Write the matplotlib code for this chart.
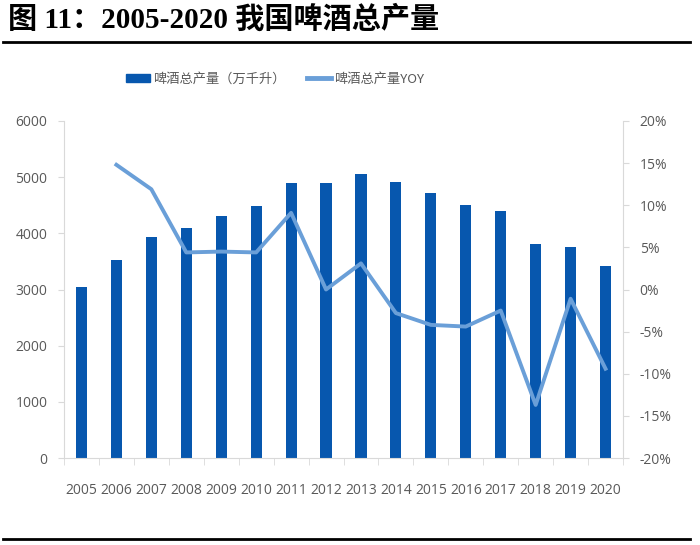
import matplotlib
matplotlib.use("Agg")
import matplotlib.pyplot as plt
from matplotlib.lines import Line2D
from matplotlib.patches import Patch
import numpy as np

years = ["2005", "2006", "2007", "2008", "2009", "2010", "2011", "2012",
         "2013", "2014", "2015", "2016", "2017", "2018", "2019", "2020"]
production = [3050, 3520, 3930, 4090, 4300, 4480, 4890, 4890,
              5060, 4920, 4710, 4500, 4400, 3810, 3760, 3410]
yoy_years = years[1:]
yoy = [14.8, 11.9, 4.4, 4.5, 4.4, 9.1, 0.0, 3.1,
       -2.8, -4.2, -4.4, -2.5, -13.7, -1.1, -9.4]
left_ticks = [0, 1000, 2000, 3000, 4000, 5000, 6000]
right_ticks = [-20, -15, -10, -5, 0, 5, 10, 15, 20]

bar_color = "#0757AE"
line_color = "#6A9FD8"
grey = "#595959"
spine_c = "#D9D9D9"
tick_font = ["Open Sans", "DejaVu Sans"]

fig = plt.figure(figsize=(7, 5.45), dpi=100)
fig.patch.set_facecolor("white")
ax = fig.add_axes([64/700, 1-458/545, (623-64)/700, (458-121)/545])
x = np.arange(len(years))
ax.bar(x, production, width=0.32, color=bar_color, zorder=2)
ax.set_xlim(-0.5, len(years)-0.5)
ax.set_ylim(0, 6000)
ax.set_yticks(left_ticks)
ax.set_yticklabels([str(t) for t in left_ticks])
ax.set_xticks(x)
ax.set_xticklabels(years)
ax.set_xticks(np.arange(-0.5, len(years), 1.0), minor=True)
ax.tick_params(axis="x", which="major", length=0, pad=18, labelsize=10, labelcolor=grey)
ax.tick_params(axis="x", which="minor", length=5, color=spine_c, direction="out")
ax.tick_params(axis="y", length=4, color=spine_c, labelsize=10, labelcolor=grey, pad=8)
for s in ["top", "right"]:
    ax.spines[s].set_visible(False)
for s in ["left", "bottom"]:
    ax.spines[s].set_color(spine_c)

ax2 = ax.twinx()
xi = np.array([years.index(y) for y in yoy_years])
ax2.plot(xi, yoy, color=line_color, lw=2.8, zorder=3)
ax2.set_ylim(-20, 20)
ax2.set_yticks(right_ticks)
ax2.set_yticklabels([f"{t}%" for t in right_ticks])
ax2.tick_params(axis="y", length=4, color=spine_c, labelsize=10, labelcolor=grey, pad=8)
for s in ["top", "left", "bottom"]:
    ax2.spines[s].set_visible(False)
ax2.spines["right"].set_color(spine_c)

for a in (ax, ax2):
    for lab in a.get_xticklabels() + a.get_yticklabels():
        lab.set_family(tick_font)

handles = [Patch(color=bar_color), Line2D([0], [0], color=line_color, lw=3.5)]
labels = ["啤酒总产量（万千升）", "啤酒总产量YOY"]
fig.legend(handles, labels, loc="center", bbox_to_anchor=(0.393, 1-79/545), ncol=2,
           frameon=False, prop={"family": ["Noto Sans CJK SC"], "size": 9.5},
           labelcolor=grey, handlelength=1.8, handleheight=0.6, columnspacing=1.6,
           handletextpad=0.25)

fig.text(8/700, 1-20/545, "图 11：2005-2020 我国啤酒总产量", fontsize=21, fontweight="bold",
         family=["Liberation Serif", "Noto Sans CJK SC"], va="center", ha="left", color="black")
fig.add_artist(Line2D([3/700, 690/700], [1-42/545, 1-42/545], color="black", lw=2.0))
fig.add_artist(Line2D([3/700, 690/700], [1-539/545, 1-539/545], color="black", lw=2.0))

fig.savefig("out.png", dpi=100, facecolor="white")
